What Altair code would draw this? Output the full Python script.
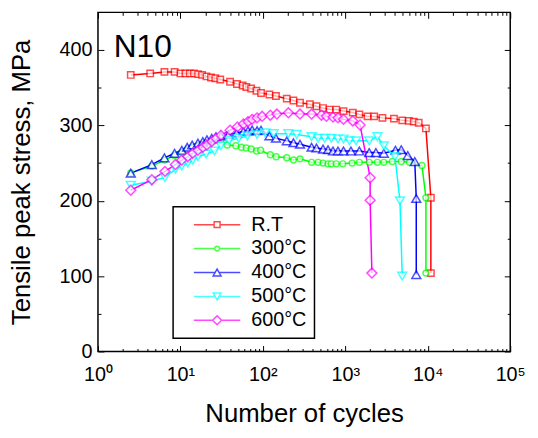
import altair as alt
import pandas as pd

FONT = "Liberation Sans, Arial, sans-serif"

series = ["R.T", "300°C", "400°C", "500°C", "600°C"]
colors = ["#FF0000", "#00FF00", "#0000FF", "#00FFFF", "#FF00FF"]
markers = ["square", "circle", "triangle-up", "triangle-down", "diamond"]
marker_sizes = [42, 36, 81, 81, 100]

N_rt = [2.5, 4.3, 6.4, 8.5, 10, 11.5, 13, 14.6, 16.4, 18.3, 20.7, 23.5, 26.5, 30.4, 40, 48.6, 56.8, 63, 72,
        83.5, 95, 120, 144, 195, 235, 282, 372, 447, 537, 645, 776, 950, 1230, 1480, 1860, 2240, 2820, 3890,
        4900, 5890, 6760, 7760, 9490, 10900, 10900]
S_rt = [367, 369, 371, 371, 369, 369, 369, 369, 368, 367, 365, 363.5, 362.6, 361, 358, 355, 353, 351, 349,
        346, 343, 341, 339, 335.5, 333, 330, 328, 325.5, 323, 321, 321, 319, 317, 314.6, 312, 312, 310, 309,
        306.7, 306, 305, 303.5, 296, 204, 104]

N_300 = [2.5, 4.5, 6.4, 8.5, 10.4, 12.1, 13.9, 16.3, 18.7, 21, 24, 27, 31, 37, 47, 55, 63, 72, 84, 94, 123,
         145, 195, 235, 282, 390, 468, 537, 617, 675, 776, 930, 1210, 1480, 1950, 2450, 2930, 3720, 4770, 6000,
         8500, 9500, 9500]
S_300 = [237, 246, 254, 260, 264, 268, 271, 273, 275, 277, 279, 280, 281, 274, 273, 271, 270, 268.6, 266, 267,
         261, 258.5, 257, 254, 255.6, 251, 251, 250, 249, 249, 249, 249, 250, 251, 251, 251, 251, 252, 252, 251,
         246.7, 204, 104]

N_400 = [2.5, 4.5, 6.4, 8.5, 10.4, 12.1, 13.9, 16.3, 18.7, 21, 24, 27, 31, 38, 48, 58, 66, 74, 85, 95, 120,
         144, 195, 235, 282, 390, 447, 537, 617, 709, 815, 950, 1170, 1480, 1950, 2350, 2930, 4060, 4770, 5720,
         6960, 7250, 7250]
S_400 = [236.6, 248, 257, 263, 267, 271, 274, 276.5, 278.6, 281, 283, 285, 286, 288, 290, 292, 293, 294, 293,
         293.6, 286, 283, 279.5, 277, 275, 271, 270, 268.6, 267.7, 266, 266, 266, 266, 266, 264, 264, 263, 267,
         267.7, 260, 252, 203, 102]

N_500 = [2.5, 4.5, 6.5, 8.7, 10.4, 12.3, 14.1, 16.3, 20.5, 25.9, 31, 39, 51, 65, 85, 107, 135, 204, 257, 390,
         468, 562, 675, 815, 950, 1120, 1350, 1950, 2450, 2930, 4000, 4600, 4900]
S_500 = [220.5, 226, 231, 242, 246, 250, 254, 258.5, 262, 266, 273, 280, 283, 286, 288, 290, 289, 289, 288, 285,
         283, 283, 283, 282, 282, 279.5, 279.5, 279.5, 285, 273, 258.5, 200, 100]

N_600 = [2.5, 4.5, 6.5, 8.7, 10.4, 12.3, 14.1, 16.3, 18.7, 21, 24, 27, 31, 40, 49, 58, 66, 74, 85, 98, 123,
         148, 204, 282, 390, 513, 590, 709, 815, 950, 1230, 1510, 2000, 2000, 2100]
S_600 = [214, 228, 239, 248, 254, 258.5, 263, 267, 271, 274, 278.6, 283, 287, 293.6, 298, 302, 305, 308, 310,
         312, 313.6, 315, 316.7, 315, 315, 313.6, 312, 311, 310, 308, 306, 300.5, 230.6, 200.8, 104]

x_major = [1, 10, 100, 1000, 10000, 100000]
x_minor = [m * 10 ** k for k in range(5) for m in range(2, 10)]
y_major = [0, 100, 200, 300, 400]
y_minor = [50, 150, 250, 350]
x_labels = ["10⁰", "10¹", "10²", "10³", "10⁴", "10⁵"]
panel_label = ["N10"]

all_N = [N_rt, N_300, N_400, N_500, N_600]
all_S = [S_rt, S_300, S_400, S_500, S_600]

rows = []
for name, mk, ms, Ns, Ss in zip(series, markers, marker_sizes, all_N, all_S):
    for i, (n, s) in enumerate(zip(Ns, Ss)):
        rows.append({"series": name, "N": n, "S": s, "idx": i, "marker": mk, "msize": ms})
df = pd.DataFrame(rows)


def fmt(v):
    return f"{v:.3f}"


def legend_path(kind):
    L, R, c = -0.607, 0.934, 0.164
    if kind == "square":
        h = 0.098
        return (f"M{fmt(L)},0L{fmt(c-h)},0M{fmt(c+h)},0L{fmt(R)},0"
                f"M{fmt(c-h)},{fmt(-h)}L{fmt(c+h)},{fmt(-h)}L{fmt(c+h)},{fmt(h)}L{fmt(c-h)},{fmt(h)}Z")
    if kind == "circle":
        r = 0.079
        return (f"M{fmt(L)},0L{fmt(c-r)},0M{fmt(c+r)},0L{fmt(R)},0"
                f"M{fmt(c+r)},0A{fmt(r)},{fmt(r)} 0 1,1 {fmt(c-r)},0A{fmt(r)},{fmt(r)} 0 1,1 {fmt(c+r)},0Z")
    if kind == "triangle-up":
        hw, hh = 0.131, 0.115
        return (f"M{fmt(L)},0L{fmt(c-hw/2)},0M{fmt(c+hw/2)},0L{fmt(R)},0"
                f"M{fmt(c)},{fmt(-hh)}L{fmt(c+hw)},{fmt(hh)}L{fmt(c-hw)},{fmt(hh)}Z")
    if kind == "triangle-down":
        hw, hh = 0.131, 0.115
        return (f"M{fmt(L)},0L{fmt(c-hw/2)},0M{fmt(c+hw/2)},0L{fmt(R)},0"
                f"M{fmt(c)},{fmt(hh)}L{fmt(c+hw)},{fmt(-hh)}L{fmt(c-hw)},{fmt(-hh)}Z")
    h = 0.148
    return (f"M{fmt(L)},0L{fmt(c-h)},0M{fmt(c+h)},0L{fmt(R)},0"
            f"M{fmt(c)},{fmt(-h)}L{fmt(c+h)},0L{fmt(c)},{fmt(h)}L{fmt(c-h)},0Z")


legend_shapes = [legend_path(k) for k in markers]

xscale = alt.Scale(type="log", domain=[1, 100000], nice=False)
yscale = alt.Scale(domain=[0, 450], nice=False, zero=False)

common = dict(domain=False, grid=False, tickColor="black", tickWidth=1)

x_bottom_major = alt.Axis(orient="bottom", values=x_major, tickSize=6, offset=-6, labelPadding=13,
                          labelExpr="['10⁰','10¹','10²','10³','10⁴','10⁵'][round(log(datum.value)/LN10)]",
                          labelFont=FONT, labelFontSize=20, labelColor="black", labelFlush=False,
                          title="Number of cycles", titleFont=FONT, titleFontSize=26, titleFontWeight="normal",
                          titleColor="black", titleY=77, titleBaseline="alphabetic", **common)
x_bottom_minor = alt.Axis(orient="bottom", values=x_minor, tickSize=3, offset=-3, labels=False, title=None,
                          **common)
x_top_major = alt.Axis(orient="top", values=x_major, tickSize=6, offset=-6, labels=False, title=None, **common)
x_top_minor = alt.Axis(orient="top", values=x_minor, tickSize=3, offset=-3, labels=False, title=None, **common)

y_left_major = alt.Axis(orient="left", values=y_major, tickSize=6, offset=-6, labelPadding=6,
                        labelFont=FONT, labelFontSize=20, labelColor="black",
                        title="Tensile peak stress, MPa", titleFont=FONT, titleFontSize=26,
                        titleFontWeight="normal", titleColor="black", titleX=-75, titleAngle=270,
                        titleBaseline="alphabetic", **common)
y_left_minor = alt.Axis(orient="left", values=y_minor, tickSize=3, offset=-3, labels=False, title=None, **common)
y_right_major = alt.Axis(orient="right", values=y_major, tickSize=6, offset=-6, labels=False, title=None,
                         **common)
y_right_minor = alt.Axis(orient="right", values=y_minor, tickSize=3, offset=-3, labels=False, title=None,
                         **common)

base = alt.Chart(df)
# stroke scale lists the same series in reverse order so its (disabled) legend is not merged with the visible one
stroke_scale = alt.Scale(domain=series[::-1], range=colors[::-1])

lines = base.mark_line(strokeWidth=1.5).encode(
    x=alt.X("N:Q", scale=xscale, axis=x_bottom_major),
    y=alt.Y("S:Q", scale=yscale, axis=y_left_major),
    stroke=alt.Stroke("series:N", scale=stroke_scale, legend=None),
    detail="series:N",
    order="idx:Q",
)

points = base.mark_point(filled=False, strokeWidth=1.5).encode(
    x=alt.X("N:Q", scale=xscale, axis=x_bottom_minor),
    y=alt.Y("S:Q", scale=yscale, axis=y_left_minor),
    stroke=alt.Stroke("series:N", scale=stroke_scale, legend=None),
    fill=alt.value("white"),
    shape=alt.Shape("marker:N", scale=None),
    size=alt.Size("msize:Q", scale=None),
)

leg = alt.Legend(orient="none", legendX=76, legendY=196.7, title=None, labelFont=FONT, labelFontSize=20,
                 labelColor="black", symbolSize=3721, symbolStrokeWidth=1.5, labelOffset=8, padding=8,
                 strokeColor="black", fillColor="white", rowPadding=4.2, clipHeight=20)

legend_layer = base.mark_point(filled=False, opacity=0).encode(
    x=alt.X("N:Q", scale=xscale, axis=x_top_major),
    y=alt.Y("S:Q", scale=yscale, axis=y_right_major),
    color=alt.Color("series:N", scale=alt.Scale(domain=series, range=colors), legend=leg),
    shape=alt.Shape("series:N", scale=alt.Scale(domain=series, range=legend_shapes), legend=leg),
)

extra_axes = base.mark_point(opacity=0).encode(
    x=alt.X("N:Q", scale=xscale, axis=x_top_minor),
    y=alt.Y("S:Q", scale=yscale, axis=y_right_minor),
)

label_layer = alt.Chart(pd.DataFrame({"t": panel_label})).mark_text(
    align="left", baseline="alphabetic", fontSize=32, font=FONT, color="black"
).encode(x=alt.value(16), y=alt.value(45), text="t:N")

chart = alt.layer(lines, points, legend_layer, extra_axes, label_layer).resolve_axis(
    x="independent", y="independent"
).properties(
    width=417, height=343,
    autosize=alt.AutoSizeParams(type="none"),
    padding={"left": 91, "top": 2, "right": 20, "bottom": 77},
).configure_view(stroke="black", strokeWidth=1.5).configure_legend(strokeWidth=1.5)

chart.save("out.html", embed_options={"renderer": "svg", "actions": False})
